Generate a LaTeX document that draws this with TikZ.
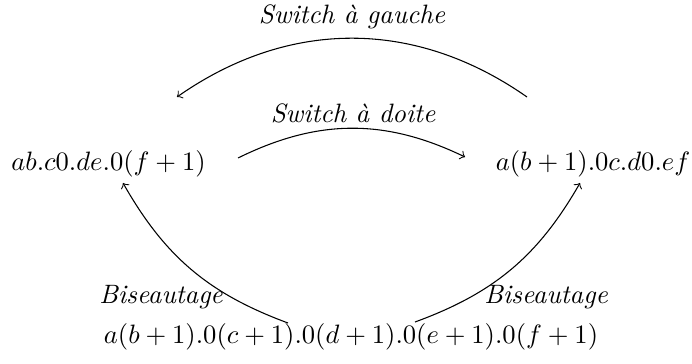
\documentclass[tikz,border=0pt]{standalone}
\usepackage{fontspec}
\begin{document}
\begin{tikzpicture}[x=0.376pt,y=-0.376pt,
  term/.style={inner sep=0pt,anchor=base},
  lab/.style={inner sep=0pt,anchor=base,font=\itshape},
  arr/.style={->,line width=0.4pt}]
\useasboundingbox (0,0) rectangle (692,363);
% terms
\node[term] (L) at (108.5,170) {$ab.c0.de.0(f+1)$};
\node[term] (R) at (593,170) {$a(b+1).0c.d0.ef$};
\node[term] (B) at (351,343) {$a(b+1).0(c+1).0(d+1).0(e+1).0(f+1)$};
% labels
\node[lab] (lg) at (352,24) {Switch à gauche};
\node[lab] (ld) at (353,122) {Switch à doite};
\node[lab] (bl) at (161,303) {Biseautage};
\node[lab] (br) at (546,303) {Biseautage};
% connector ends
\coordinate (gS) at (527,97);
\coordinate (gE) at (177,97);
\coordinate (dS) at (238,158);
\coordinate (dE) at (465,157);
\coordinate (blS) at (288,323);
\coordinate (blE) at (123,183);
\coordinate (brS) at (415,322);
\coordinate (brE) at (580,183);
% connectors
\draw[arr] (gS) to[bend right=35] (gE);
\draw[arr] (dS) to[bend left=26] (dE);
\draw[arr] (blS) to[bend left=20] (blE);
\draw[arr] (brS) to[bend right=20] (brE);
\end{tikzpicture}
\end{document}
